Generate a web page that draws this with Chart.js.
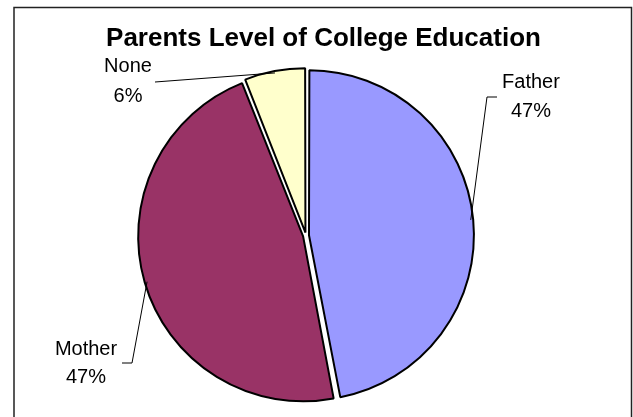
<!DOCTYPE html>
<html>
<head>
<meta charset="utf-8">
<script src="https://cdn.jsdelivr.net/npm/chart.js@4.4.0/dist/chart.umd.min.js"></script>
<style>
    html, body { margin: 0; padding: 0; background: #fff; }
    #wrap { width: 633px; height: 417px; }
</style>
</head>
<body>
<div id="wrap"><canvas id="pieChart" width="633" height="417"></canvas></div>
<script>
var chartTitle = 'Parents Level of College Education';
var categories = ['Father', 'Mother', 'None'];
var values = [47, 47, 6];
var sliceColors = ['#9999FF', '#993366', '#FFFFCC'];

// where each data label sits and where its leader line starts
var labelSpots = [
    { x: 531, y1: 88, y2: 117, line: [[497, 97], [487, 97]] },
    { x: 86, y1: 355, y2: 383, line: [[122, 363], [132, 363]] },
    { x: 128, y1: 72, y2: 102, line: [[155, 82]] }
];

var framePlugin = {
    id: 'frame',
    beforeDraw: function (chart) {
        var ctx = chart.ctx;
        ctx.save();
        ctx.fillStyle = '#fff';
        ctx.fillRect(0, 0, chart.width, chart.height);
        ctx.strokeStyle = '#222';
        ctx.lineWidth = 1.5;
        ctx.strokeRect(14, 7.5, 617.5, 430);
        ctx.restore();
    },
    afterDraw: function (chart) {
        var ctx = chart.ctx;
        var meta = chart.getDatasetMeta(0);
        var total = values.reduce(function (a, b) { return a + b; }, 0);
        ctx.save();
        // title
        ctx.fillStyle = '#000';
        ctx.font = 'bold 26px "Liberation Sans", Arial, sans-serif';
        ctx.textAlign = 'center';
        ctx.textBaseline = 'alphabetic';
        ctx.fillText(chartTitle, 323.5, 46);

        // labels + leader lines
        ctx.font = '20px "Liberation Sans", Arial, sans-serif';
        meta.data.forEach(function (arc, i) {
            var spot = labelSpots[i];
            var mid = (arc.startAngle + arc.endAngle) / 2;
            var off = (arc.options.offset || 0) / 4;
            var ex = arc.x + Math.cos(mid) * (arc.outerRadius + off);
            var ey = arc.y + Math.sin(mid) * (arc.outerRadius + off);
            ctx.strokeStyle = '#000';
            ctx.lineWidth = 1;
            ctx.beginPath();
            ctx.moveTo(spot.line[0][0], spot.line[0][1]);
            for (var k = 1; k < spot.line.length; k++) ctx.lineTo(spot.line[k][0], spot.line[k][1]);
            ctx.lineTo(ex, ey);
            ctx.stroke();

            var pct = Math.round(values[i] / total * 100) + '%';
            ctx.fillText(categories[i], spot.x, spot.y1);
            ctx.fillText(pct, spot.x, spot.y2);
        });
        ctx.restore();
    }
};

var ctx1 = document.getElementById('pieChart').getContext('2d');
new Chart(ctx1, {
    type: 'pie',
    data: {
        labels: categories,
        datasets: [{
            data: values,
            backgroundColor: sliceColors,
            borderColor: '#000',
            borderWidth: 2,
            offset: 12
        }]
    },
    options: {
        responsive: false,
        animation: false,
        layout: { padding: { top: 66, bottom: 12, left: 129, right: 150 } },
        plugins: {
            legend: { display: false },
            tooltip: { enabled: false }
        }
    },
    plugins: [framePlugin]
});
</script>
</body>
</html>
